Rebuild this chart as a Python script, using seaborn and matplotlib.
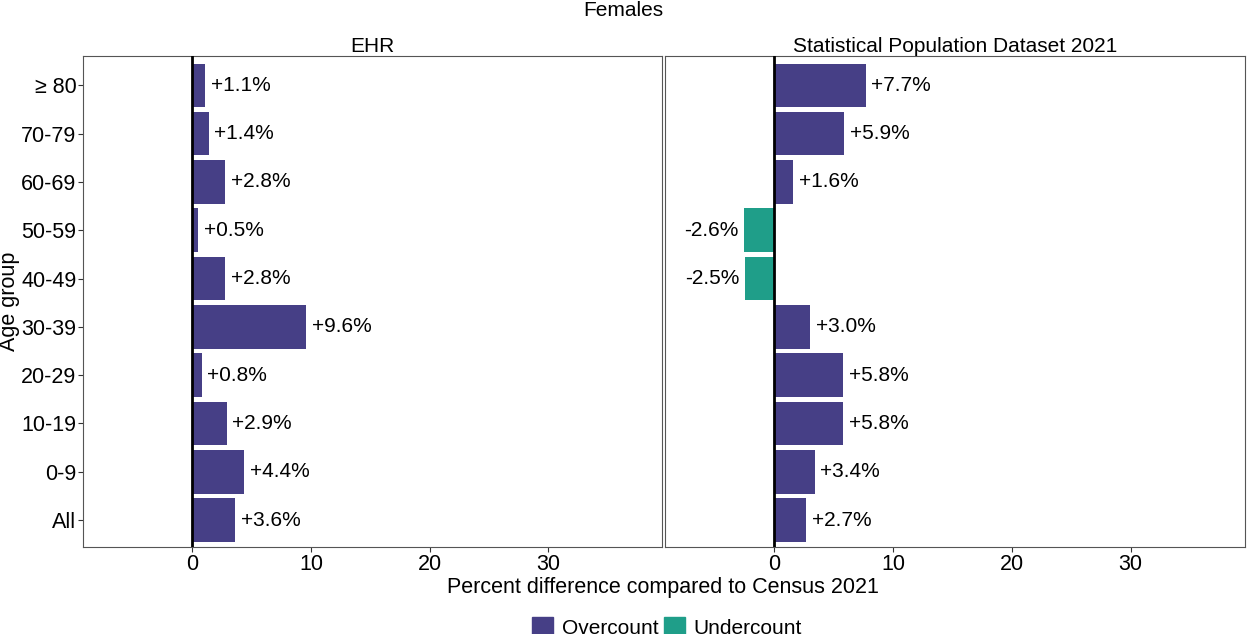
import pandas as pd
import matplotlib
matplotlib.use("Agg")
import matplotlib.pyplot as plt
import seaborn as sns
from matplotlib.patches import Patch

age_groups = ["≥ 80", "70-79", "60-69", "50-59", "40-49", "30-39", "20-29", "10-19", "0-9", "All"]
ehr_diff = [1.1, 1.4, 2.8, 0.5, 2.8, 9.6, 0.8, 2.9, 4.4, 3.6]
spd_diff = [7.7, 5.9, 1.6, -2.6, -2.5, 3.0, 5.8, 5.8, 3.4, 2.7]
panels = ["EHR", "Statistical Population Dataset 2021"]

colors = {"Overcount": "#463F86", "Undercount": "#1F9E89"}

sns.set_theme(style="white")
plt.rcParams['font.family'] = ['Liberation Sans', 'DejaVu Sans']
plt.rcParams['text.color'] = 'black'
plt.rcParams['axes.labelcolor'] = 'black'
plt.rcParams['xtick.labelcolor'] = 'black'
plt.rcParams['ytick.labelcolor'] = 'black'

df = pd.concat([
    pd.DataFrame({"age": age_groups, "diff": ehr_diff, "source": panels[0]}),
    pd.DataFrame({"age": age_groups, "diff": spd_diff, "source": panels[1]}),
])
df["type"] = ["Overcount" if v >= 0 else "Undercount" for v in df["diff"]]

fig, axes = plt.subplots(1, 2, figsize=(12.47, 6.34), dpi=100, sharey=True)
fig.subplots_adjust(left=0.0666, right=0.998, top=0.912, bottom=0.137, wspace=0.005)

for ax, name in zip(axes, panels):
    sub = df[df["source"] == name]
    sns.barplot(data=sub, x="diff", y="age", hue="type", order=age_groups,
                palette=colors, hue_order=["Overcount", "Undercount"],
                dodge=False, width=0.9, saturation=1, legend=False, ax=ax,
                edgecolor="none")
    ax.axvline(0, color="black", lw=2, zorder=5)
    for i, v in enumerate(sub["diff"]):
        lab = f"+{v:.1f}%" if v >= 0 else f"{v:.1f}%"
        ax.annotate(lab, (v, i), xytext=(4 if v >= 0 else -4, 0),
                    textcoords="offset points", va="center",
                    ha="left" if v >= 0 else "right", fontsize=15, color="black")
    ax.set_xlim(-9.2, 39.6)
    ax.set_ylim(len(age_groups) - 0.44, -0.61)
    ax.set_xticks([0, 10, 20, 30])
    ax.set_title(name, fontsize=15, pad=3, color="black")
    ax.set_xlabel("")
    ax.set_ylabel("")
    ax.tick_params(axis="both", labelsize=15.5, length=3.5, width=0.8,
                   color="#333333", bottom=True, left=True, pad=1.2)
    for s in ax.spines.values():
        s.set_color("#555555")
        s.set_linewidth(0.8)

axes[1].tick_params(left=False)
axes[0].set_ylabel("Age group", fontsize=15.5, labelpad=1)
fig.text(0.532, 0.065, "Percent difference compared to Census 2021",
         ha="center", fontsize=15.5)
fig.suptitle("Females", fontsize=15, y=0.998)

handles = [Patch(color=colors[k], label=k) for k in colors]
fig.legend(handles=handles, loc="upper center", bbox_to_anchor=(0.535, 0.056),
           ncol=2, frameon=False, fontsize=15, handlelength=1.0, handleheight=1.0,
           columnspacing=0.3, handletextpad=0.4)

fig.savefig("out.png", dpi=100)
